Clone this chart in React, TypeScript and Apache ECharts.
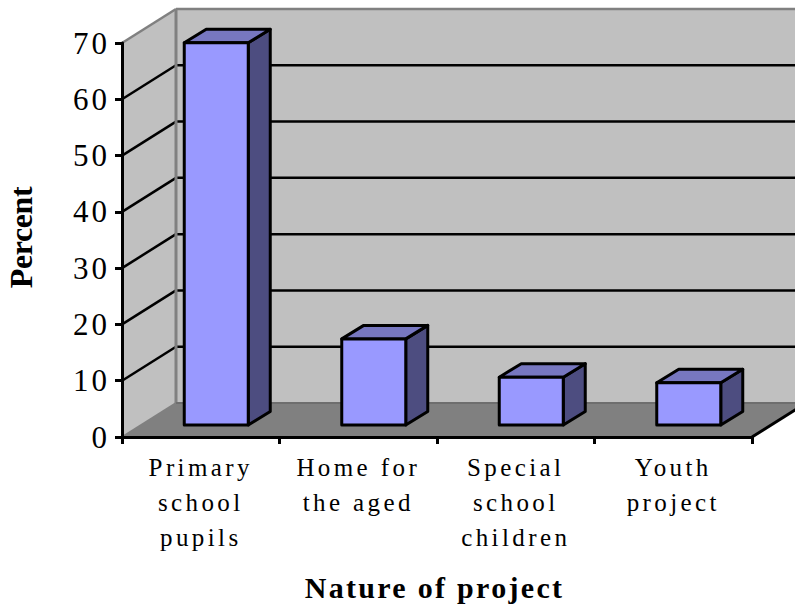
import React, { useEffect, useRef } from "react";
import * as echarts from "echarts";

const categories = ["Primary\nschool\npupils", "Home for\nthe aged", "Special\nschool\nchildren", "Youth\nproject"];
const values = [67.9, 15.3, 8.5, 7.5];
const yMax = 70;
const yStep = 10;
const yTicks = [0, 10, 20, 30, 40, 50, 60, 70];
const xTitle = "Nature of project";
const yTitle = "Percent";

// 3D look, in pixels
const WALL_DX = 54;
const WALL_DY = -34;
const BAR_SHIFT_X = 15.5;
const BAR_SHIFT_Y = -12;
const BAR_W = 64;
const BAR_DX = 22;
const BAR_DY = -13.5;

const FONT = '"Liberation Serif", "Times New Roman", serif';
const css = `
text[style*="25px"]{letter-spacing:3.4px}
text[style*="30px"]{letter-spacing:2.3px}
text[style*="31px"]{letter-spacing:3px}
text[style*="32px"]{letter-spacing:-0.4px}
`;

function poly(points: number[][], fill: string, stroke?: string, lineWidth = 3) {
  return {
    type: "polygon",
    shape: { points },
    style: { fill, stroke: stroke ?? "none", lineWidth, lineJoin: "round" },
  };
}
function seg(a: number[], b: number[], stroke: string, lineWidth = 2) {
  return {
    type: "line",
    shape: { x1: a[0], y1: a[1], x2: b[0], y2: b[1] },
    style: { stroke, lineWidth },
  };
}

function renderWalls(params: any, api: any) {
  const cs = params.coordSys;
  const x0 = cs.x;
  const x1 = cs.x + cs.width;
  const yOf = (v: number) => api.coord([0, v])[1];
  const y0 = yOf(0);
  const yT = yOf(yMax);
  const bx0 = x0 + WALL_DX;
  const bx1 = x1 + WALL_DX;
  const children: any[] = [
    poly([[bx0, yT + WALL_DY], [bx1, yT + WALL_DY], [bx1, y0 + WALL_DY], [bx0, y0 + WALL_DY]], "#c0c0c0"),
    poly([[x0, yT], [bx0, yT + WALL_DY], [bx0, y0 + WALL_DY], [x0, y0]], "#c0c0c0"),
    poly([[x0, y0], [bx0, y0 + WALL_DY], [bx1, y0 + WALL_DY], [x1, y0]], "#808080"),
  ];
  yTicks.forEach((t) => {
    if (t === 0 || t === yMax) return;
    const y = yOf(t);
    children.push(seg([x0, y], [bx0, y + WALL_DY], "#000", 2.5));
    children.push(seg([bx0, y + WALL_DY], [bx1, y + WALL_DY], "#000", 2.5));
  });
  children.push(seg([x0, yT], [bx0, yT + WALL_DY], "#808080", 2.5));
  children.push(seg([bx0, yT + WALL_DY], [bx1, yT + WALL_DY], "#808080", 2.5));
  children.push(seg([bx0, yT + WALL_DY], [bx0, y0 + WALL_DY], "#808080", 3));
  children.push(seg([x0, y0], [bx0, y0 + WALL_DY], "#808080", 2));
  children.push(seg([bx0, y0 + WALL_DY], [bx1, y0 + WALL_DY], "#6e6e6e", 2));
  children.push(seg([x1, y0], [bx1, y0 + WALL_DY], "#000", 3));
  return { type: "group", children };
}

function renderBar(_params: any, api: any) {
  const top = api.coord([api.value(0), api.value(1)]);
  const base = api.coord([api.value(0), 0]);
  const cx = top[0] + BAR_SHIFT_X;
  const l = cx - BAR_W / 2;
  const r = cx + BAR_W / 2;
  const t = top[1] + BAR_SHIFT_Y;
  const b = base[1] + BAR_SHIFT_Y;
  return {
    type: "group",
    children: [
      poly([[r, t], [r + BAR_DX, t + BAR_DY], [r + BAR_DX, b + BAR_DY], [r, b]], "#4d4d80", "#000"),
      poly([[l, t], [l + BAR_DX, t + BAR_DY], [r + BAR_DX, t + BAR_DY], [r, t]], "#7777c0", "#000"),
      poly([[l, t], [r, t], [r, b], [l, b]], "#9999ff", "#000"),
    ],
  };
}

export default function App() {
  const ref = useRef<HTMLDivElement>(null);
  useEffect(() => {
    document.body.style.margin = "0";
    const chart = echarts.init(ref.current!, null, { renderer: "svg" });
    chart.setOption({
      animation: false,
      backgroundColor: "#fff",
      grid: { left: 122, top: 43, width: 630, height: 394, outerBoundsMode: "none" },
      xAxis: {
        type: "category",
        data: categories,
        z: 10,
        name: xTitle,
        nameLocation: "middle",
        nameGap: 135,
        nameTextStyle: { fontFamily: FONT, fontSize: 30, fontWeight: "bold", color: "#000", padding: [0, 5, 0, 0] },
        axisLine: { lineStyle: { color: "#000", width: 3 } },
        axisTick: { show: true, alignWithLabel: false, length: 7, lineStyle: { color: "#000", width: 3 } },
        axisLabel: {
          interval: 0,
          hideOverlap: false,
          fontFamily: FONT,
          fontSize: 25,
          color: "#000",
          lineHeight: 35,
          margin: 13,
        },
      },
      yAxis: {
        type: "value",
        min: 0,
        max: yMax,
        interval: yStep,
        z: 10,
        name: yTitle,
        nameLocation: "middle",
        nameGap: 85,
        nameTextStyle: { fontFamily: FONT, fontSize: 32, fontWeight: "bold", color: "#000", padding: [0, 0, 0, 5] },
        splitLine: { show: false },
        axisLine: { show: true, lineStyle: { color: "#000", width: 3 } },
        axisTick: { show: true, length: 7, lineStyle: { color: "#000", width: 3 } },
        axisLabel: { fontFamily: FONT, fontSize: 31, color: "#000", margin: 12 },
      },
      series: [
        { type: "custom", silent: true, z: 1, data: [[0, 0]], renderItem: renderWalls, clip: false },
        {
          type: "custom",
          z: 2,
          data: values.map((v, i) => [i, v]),
          encode: { x: 0, y: 1 },
          renderItem: renderBar,
          clip: false,
        },
      ],
    });
    return () => chart.dispose();
  }, []);
  return (
    <>
      <style>{css}</style>
      <div ref={ref} style={{ width: 795, height: 606, overflow: "hidden" }} />
    </>
  );
}
